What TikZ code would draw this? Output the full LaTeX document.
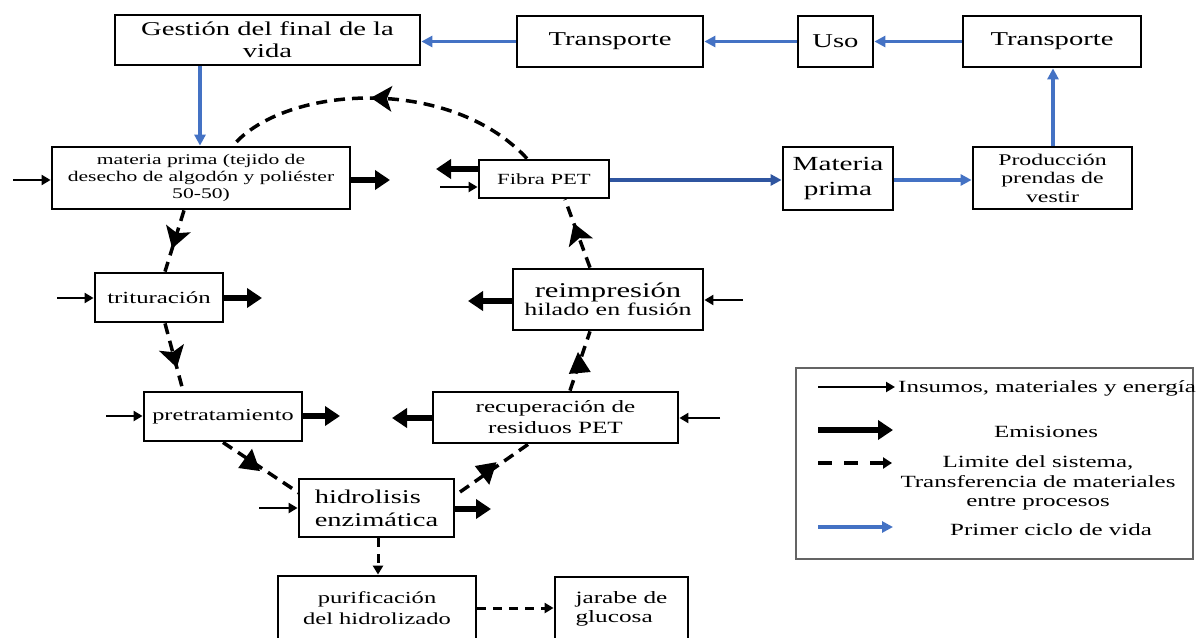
\documentclass[tikz,border=0pt]{standalone}
\usepackage{fontspec}
\setmainfont{Liberation Serif}[FakeStretch=1.46]
\usetikzlibrary{arrows.meta,decorations.markings,calc}
\definecolor{blueA}{RGB}{68,114,196}
\definecolor{blueB}{RGB}{47,85,160}
\definecolor{legendgray}{RGB}{100,100,100}
\newcommand\setfs[2]{\fontsize{#1}{#2}\selectfont}
\tikzset{
 box/.style={draw=black, line width=2.8pt, rectangle, inner sep=0pt, align=center, text=black},
 thinarr/.style={line width=2.2pt, -{Triangle[length=9pt,width=10pt]}},
 thickarr/.style={line width=6pt, -{Triangle[length=15pt,width=19pt]}},
 bluearr/.style={line width=3.2pt, draw=blueA, -{Triangle[length=11pt,width=11pt]}},
 dashflow/.style={line width=3.5pt, dash pattern=on 11pt off 7pt},
 midhead/.style 2 args={postaction={decorate}, decoration={markings, mark=at position #1 with {\fill[black, rotate=#2] (11pt,0pt) -- (-10pt,13pt) -- (-5pt,0pt) -- (-10pt,-13pt) -- cycle;}}},
 midtri/.style 2 args={postaction={decorate}, decoration={markings, mark=at position #1 with {\pgftransformresetnontranslations\fill[black, rotate=#2] (12pt,0pt) -- (-9pt,11pt) -- (-9pt,-11pt) -- cycle;}}},
 smalldash/.style={line width=3pt, dash pattern=on 9pt off 7pt, -{Triangle[length=9pt,width=10pt]}},
}
\begin{document}
\begin{tikzpicture}[x=1pt,y=-1pt]
\useasboundingbox (0,0) rectangle (1196,637);
\clip (0,0) rectangle (1196,637);
\fill[white] (0,0) rectangle (1196,637);

% top row
\node[box, minimum width=305pt, minimum height=50pt, font=\setfs{19.6}{22}] (gest) at (267.5,40) {Gestión del final de la\\vida};
\node[box, minimum width=186pt, minimum height=51pt, font=\setfs{19.6}{22}] (tr1) at (610,41.5) {Transporte};
\node[box, minimum width=75pt, minimum height=51pt, font=\setfs{19.6}{22}] (uso) at (835.5,41.5) {Uso};
\node[box, minimum width=178pt, minimum height=51pt, font=\setfs{19.6}{22}] (tr2) at (1052,41.5) {Transporte};

% second row
\node[box, minimum width=298pt, minimum height=62pt, font=\setfs{14.8}{17}] (mp) at (201,178) {materia prima (tejido de\\desecho de algodón y poliéster\\50-50)};
\node[box, minimum width=130pt, minimum height=38pt, font=\setfs{15.5}{18}] (fibra) at (544,179) {Fibra PET};
\node[box, minimum width=110pt, minimum height=63pt, font=\setfs{20}{24.5}] (mat2) at (838,178.5) {Materia\\prima};
\node[box, minimum width=159pt, minimum height=62pt, font=\setfs{16.3}{18.5}] (prod) at (1052.5,178) {Producción\\prendas de\\vestir};

% process boxes
\node[box, minimum width=128pt, minimum height=49pt, font=\setfs{17}{20}] (trit) at (159,297.5) {trituración};
\node[box, minimum width=158pt, minimum height=49pt, font=\setfs{16.6}{20}] (pret) at (223,416.5) {pretratamiento};
\node[box, minimum width=190pt, minimum height=61pt] (reimp) at (608,299.5) {\setfs{21}{24}reimpresión\\\setfs{17.8}{24}hilado en fusión};
\node[box, minimum width=245pt, minimum height=51pt, font=\setfs{17.2}{21}] (recup) at (555.5,417.5) {recuperación de\\residuos PET};
\node[box, minimum width=155pt, minimum height=58pt, align=left, font=\setfs{19.5}{23}] (hidro) at (376.5,508) {hidrolisis\\enzimática};
\node[box, minimum width=198pt, minimum height=65pt, font=\setfs{16.8}{21}] (puri) at (377,608.5) {purificación\\del hidrolizado};
\node[box, minimum width=133pt, minimum height=64pt, align=left, font=\setfs{17.3}{19}] (jar) at (621.5,609) {jarabe de\\glucosa};

% blue first life cycle
\draw[bluearr] (200,0 |- gest.south) -- (200,0 |- mp.north);
\draw[bluearr] (tr1.west) -- (tr1.west -| gest.east);
\draw[bluearr] (uso.west) -- (uso.west -| tr1.east);
\draw[bluearr] (tr2.west) -- (tr2.west -| uso.east);
\draw[bluearr] (1053,0 |- prod.north) -- (1053,0 |- tr2.south);
\draw[bluearr, draw=blueB] (fibra.east |- 0,180) -- (mat2.west |- 0,180);
\draw[bluearr] (mat2.east |- 0,180) -- (prod.west |- 0,180);

% inputs
\coordinate (inmp) at (13,180);
\coordinate (infib) at (440,187);
\coordinate (intrit) at (57,298);
\coordinate (inpret) at (106,416);
\coordinate (inreimp) at (743,300);
\coordinate (inrecup) at (720,418);
\coordinate (inhidro) at (259,508);
\draw[thinarr] (inmp) -- (inmp -| mp.west);
\draw[thinarr] (infib) -- (infib -| fibra.west);
\draw[thinarr] (intrit) -- (intrit -| trit.west);
\draw[thinarr] (inpret) -- (inpret -| pret.west);
\draw[thinarr] (inreimp) -- (inreimp -| reimp.east);
\draw[thinarr] (inrecup) -- (inrecup -| recup.east);
\draw[thinarr] (inhidro) -- (inhidro -| hidro.west);

% emissions
\coordinate (emmp) at (390,180);
\coordinate (emfib) at (436,169);
\coordinate (emtrit) at (262,298);
\coordinate (empret) at (340,416);
\coordinate (emreimp) at (468,301);
\coordinate (emrecup) at (392,418);
\coordinate (emhidro) at (491,509);
\draw[thickarr] (emmp -| mp.east) -- (emmp);
\draw[thickarr] (emfib -| fibra.west) -- (emfib);
\draw[thickarr] (emtrit -| trit.east) -- (emtrit);
\draw[thickarr] (empret -| pret.east) -- (empret);
\draw[thickarr] (emreimp -| reimp.west) -- (emreimp);
\draw[thickarr] (emrecup -| recup.west) -- (emrecup);
\draw[thickarr] (emhidro -| hidro.east) -- (emhidro);

% system boundary / material transfer loop
\draw[dashflow, midhead={0.5}{0}] (527,0 |- fibra.north) .. controls (450,75) and (285,85) .. (233,0 |- mp.north);
\draw[dashflow, midhead={0.45}{0}] (184,0 |- mp.south) -- (165,0 |- trit.north);
\draw[dashflow, midhead={0.5}{0}] (165,0 |- trit.south) -- (183,0 |- pret.north);
\draw[dashflow, midtri={0.36}{82}] (223,0 |- pret.south) -- (299,493);
\draw[dashflow, midtri={0.4}{-80}] (460,492) -- (528,0 |- recup.south);
\draw[dashflow, midtri={0.45}{95}] (570,0 |- recup.north) -- (590,0 |- reimp.south);
\draw[dashflow, midhead={0.5}{0}] (590,0 |- reimp.north) -- (565,0 |- fibra.south);
\draw[smalldash] (378,0 |- hidro.south) -- (378,0 |- puri.north);
\draw[smalldash] (puri.east |- 0,608) -- (jar.west |- 0,608);

% legend
\node[draw=legendgray, line width=2.4pt, minimum width=397pt, minimum height=191pt, inner sep=0pt] (legend) at (994.5,463.5) {};
\coordinate (la1) at (818,387); \coordinate (lb1) at (895,387);
\coordinate (la2) at (818,430); \coordinate (lb2) at (893,430);
\coordinate (la3) at (818,463); \coordinate (lb3) at (892,463);
\coordinate (la4) at (818,527); \coordinate (lb4) at (893,527);
\draw[thinarr] (la1) -- (lb1);
\draw[thickarr] (la2) -- (lb2);
\draw[line width=4.5pt, dash pattern=on 14pt off 12pt, -{Triangle[length=9pt,width=11pt]}] (la3) -- (lb3);
\draw[bluearr] (la4) -- (lb4);
\node[anchor=west, inner sep=0pt, font=\setfs{17.1}{20}] (lt1) at (898,388) {Insumos, materiales y energía};
\node[inner sep=0pt, font=\setfs{17.1}{20}] (lt2) at (1046,432) {Emisiones};
\node[inner sep=0pt, align=center, font=\setfs{17.1}{19.5}] (lt3) at (1038,483) {Limite del sistema,\\Transferencia de materiales\\entre procesos};
\node[inner sep=0pt, font=\setfs{17.1}{20}] (lt4) at (1051,530) {Primer ciclo de vida};
\end{tikzpicture}
\end{document}
